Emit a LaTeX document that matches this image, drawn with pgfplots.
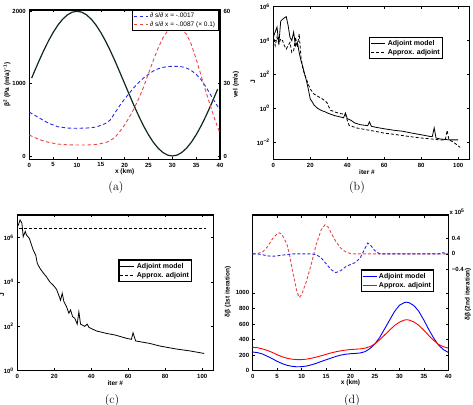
\documentclass[border=0pt]{standalone}
\usepackage{pgfplots}
\pgfplotsset{compat=1.18}
\usepackage{fontspec}
\newfontfamily\hv{Liberation Sans}
\definecolor{dkline}{RGB}{15,40,28}
\definecolor{dblue}{RGB}{40,40,225}
\definecolor{dred}{RGB}{235,70,70}
\pgfplotsset{
 base/.style={scale only axis, anchor=south west, tick align=inside,
   axis line style={line width=1.1pt},
   every tick/.style={black, line width=0.6pt},
   major tick length=2.5pt,
   /pgf/number format/assume math mode=true,
   /pgf/number format/set thousands separator={},
   ticklabel style={font=\fontsize{6}{7}\selectfont\hv\bfseries},
   label style={font=\fontsize{6.5}{7.5}\selectfont\hv\bfseries},
   legend style={font=\fontsize{7}{8}\selectfont\hv\bfseries, draw=black, line width=1.1pt, inner sep=1pt, outer sep=0pt, row sep=-1.5pt, cells={anchor=west}},
   legend image code/.code={\draw[##1, line width=0.9pt] (0pt,0pt) -- (14pt,0pt);},
 },
}
\begin{document}
\begin{tikzpicture}
\useasboundingbox (0,0) rectangle (473pt,404pt);
% ---------------- (a) ----------------
\begin{axis}[base, at={(29.3pt,244.7pt)}, width=190.7pt, height=149.3pt,
  xmin=0, xmax=40, ymin=-46, ymax=2018, xtick={0,5,...,40}, ytick={0,1000,2000},
  xlabel={x (km)}, ylabel={β\textsuperscript{2} (Pa (m/a)\textsuperscript{−1})},
  xlabel style={at={(axis description cs:0.5,-0.085)}, anchor=center},
  ylabel style={at={(axis description cs:-0.117,0.5)}, anchor=center}]
\addplot[dkline, line width=1.2pt] coordinates {
(0.5,1078)(1,1156)(2,1309)(3,1454)(4,1588)(5,1707)(6,1809)(7,1891)(8,1951)(9,1988)(10,2000)
(11,1988)(12,1951)(13,1891)(14,1809)(15,1707)(16,1588)(17,1454)(18,1309)(19,1156)(20,1000)
(21,844)(22,691)(23,546)(24,412)(25,293)(26,191)(27,109)(28,49)(29,12)(30,0)
(31,12)(32,49)(33,109)(34,191)(35,293)(36,412)(37,546)(38,691)(39,844)(39.5,922)};
\end{axis}
\begin{axis}[base, at={(29.3pt,244.7pt)}, width=190.7pt, height=149.3pt,
  xmin=0, xmax=40, axis x line=none, axis y line*=right, ymin=-1.35, ymax=60.55, ytick={0,30,60},
  ylabel={vel (m/a)},
  ylabel style={at={(axis description cs:1.084,0.5)}, anchor=center},
  legend style={at={(axis description cs:0.99,1)}, anchor=north east, font=\fontsize{6.5}{7.5}\selectfont\hv}]
\addplot[dblue, line width=0.9pt, dash pattern=on 3.5pt off 2.5pt] coordinates {
(0,18.2)(2,15.9)(4,13.65)(6,12.15)(8,11.6)(10,11.5)(12,11.6)(14,12.0)(16,13.5)(17,15.0)(18,18.0)
(19,21.0)(20,23.7)(21,26.1)(22,28.5)(23,30.6)(24,32.4)(25,33.9)(26,35.25)(27,36.15)(28,36.75)
(29,37.1)(30,37.2)(31,37.2)(32,37.0)(33,36.45)(34,35.4)(35,33.9)(36,31.8)(37,28.8)(38,25.5)(39,22.2)(40,19.0)};
\addlegendentry{∂ s/∂ x = -.0017}
\addplot[dred, line width=0.9pt, dash pattern=on 3.5pt off 2.5pt] coordinates {
(0,8.7)(2,6.9)(4,5.7)(6,4.95)(8,4.65)(10,4.56)(12,4.6)(14,4.8)(16,5.55)(17,6.45)(18,7.8)(19,10.2)
(20,12.9)(21,16.2)(22,19.8)(23,24.0)(24,28.8)(25,34.2)(26,39.6)(27,44.7)(28,48.9)(29,51.9)(30,53.25)
(31,53.4)(32,52.5)(33,50.4)(34,46.2)(35,40.2)(36,33.6)(37,27.0)(38,20.7)(39,14.7)(40,9.4)};
\addlegendentry{∂ s/∂ x = -.0087 (× 0.1)}
\end{axis}
% ---------------- (b) ----------------
\begin{axis}[base, at={(273.3pt,244.7pt)}, width=196pt, height=152.6pt,
  ymode=log, xmin=0, xmax=106, ymin=1e-3, ymax=1e6, xtick={0,20,...,100},
  ytick={1e-2,1,1e2,1e4,1e6}, yticklabels={10\textsuperscript{−2},10\textsuperscript{0},10\textsuperscript{2},10\textsuperscript{4},10\textsuperscript{6}},
  xlabel={iter \#}, ylabel={J},
  xlabel style={at={(axis description cs:0.478,-0.083)}, anchor=center},
  ylabel style={at={(axis description cs:-0.104,0.507)}, anchor=center},
  legend style={at={(axis description cs:0.493,0.801)}, anchor=north west}]
\addplot[black, line width=0.8pt] coordinates {
(0,1.6e4)(1,3.2e4)(2,6.3e4)(3,6.3e3)(4,1.4e5)(5,1.8e5)(6,2.2e5)(7,2.6e5)(8,7.9e4)(9,1.6e4)(10,1.0e4)
(11,3.2e4)(12,5.0e3)(13,7.9e3)(14,2.0e3)(15,630)(16,280)(17,100)(18,40)(19,12.6)(20,3.5)(21,2.5)
(22,1.6)(24,1.0)(26,0.76)(28,0.63)(30,0.5)(33,0.38)(36,0.32)(38,0.28)(39,0.54)(40,0.25)(42,0.2)
(44,0.14)(47,0.11)(50,0.1)(51,0.095)(52,0.16)(53,0.089)(55,0.079)(60,0.063)(65,0.052)(70,0.045)
(75,0.035)(80,0.028)(85,0.022)(86,0.022)(87,0.071)(88,0.018)(90,0.016)(95,0.014)(100,0.014)};
\addlegendentry{Adjoint model}
\addplot[black, line width=0.8pt, dash pattern=on 3pt off 2pt] coordinates {
(0,2.5e4)(1,5.0e3)(2,1.6e4)(3,6.3e3)(4,1.26e4)(5,1.0e4)(6,5.0e3)(7,3.2e3)(8,5.0e3)(9,7.9e3)(10,2.0e3)
(11,2.5e3)(12,1.6e4)(13,4.0e3)(14,2.5e4)(15,1.0e3)(16,200)(17,100)(18,50)(19,25)(20,14)(22,7.1)
(24,5.2)(26,4.0)(28,2.8)(29,2.2)(30,1.26)(31,0.79)(33,0.63)(36,0.5)(39,0.45)(40,0.2)(41,0.1)
(45,0.071)(50,0.056)(55,0.045)(60,0.035)(65,0.030)(70,0.025)(75,0.021)(80,0.018)(85,0.016)
(90,0.014)(93,0.014)(94,0.05)(95,0.014)(97,0.011)(100,0.0063)(101,0.005)};
\addlegendentry{Approx. adjoint}
\end{axis}
% ---------------- (c) ----------------
\begin{axis}[base, at={(17.3pt,33.3pt)}, width=196pt, height=155.7pt,
  ymode=log, xmin=0, xmax=106, ymin=1, ymax=1.05e7, xtick={0,20,...,100},
  ytick={1,1e2,1e4,1e6}, yticklabels={10\textsuperscript{0},10\textsuperscript{2},10\textsuperscript{4},10\textsuperscript{6}},
  xlabel={iter \#}, ylabel={J},
  xlabel style={at={(axis description cs:0.5,-0.079)}, anchor=center},
  ylabel style={at={(axis description cs:-0.078,0.49)}, anchor=center},
  legend style={at={(axis description cs:0.519,0.711)}, anchor=north west}]
\addplot[black, line width=0.8pt] coordinates {
(0.5,3.5e6)(1.5,6.3e6)(2.5,4.5e6)(3.2,1.1e6)(4.3,1.9e6)(5,1.3e6)(6.5,9.3e5)(7.7,4.7e5)(8.6,2.8e5)
(10,1.6e5)(10.8,6.9e4)(12.2,4.2e4)(14,2.6e4)(15.8,1.7e4)(17.6,1.0e4)(19.4,7.2e3)(21.2,4.7e3)
(22.7,2.2e3)(23.4,1.5e3)(24.3,3.1e3)(25.2,1.3e3)(26.6,780)(27.9,390)(28.8,550)(29.9,275)(31.1,230)
(32.4,126)(33.3,457)(34.2,126)(36.5,100)(37.8,126)(38.8,89)(42.8,62)(48.2,48)(52.7,41)(59,29)
(61.7,26)(62.6,51)(64,22)(71.6,17)(77,13)(86,9.5)(93,7.9)(101,6.0)};
\addlegendentry{Adjoint model}
\addplot[black, line width=0.8pt, dash pattern=on 3pt off 2pt] coordinates {(1,2.63e6)(102,2.63e6)};
\addlegendentry{Approx. adjoint}
\end{axis}
% ---------------- (d) ----------------
\begin{axis}[base, at={(252.7pt,33.3pt)}, width=195.6pt, height=155.7pt,
  xmin=0, xmax=40, ymin=0, ymax=2000, xtick={0,5,...,40}, ytick={0,200,...,1000},
  xlabel={x (km)}, ylabel={δβ (1st iteration)},
  xlabel style={at={(axis description cs:0.5,-0.079)}, anchor=center},
  ylabel style={at={(axis description cs:-0.126,0.505)}, anchor=center},
  legend style={at={(axis description cs:0.554,0.647)}, anchor=north west}]
\addplot[blue, line width=0.9pt] coordinates {
(0,240)(1,232)(2,215)(3,185)(4,155)(5,120)(6,92)(7,70)(8,57)(9,50)(10,52)(11,60)(12,75)(13,95)
(14,118)(15,140)(16,162)(17,183)(18,200)(19,212)(20,218)(21,222)(22,228)(23,245)(24,285)(25,345)
(26,430)(27,540)(28,650)(29,760)(30,840)(31,875)(31.5,880)(32,873)(33,835)(34,760)(35,650)(36,530)
(37,420)(38,330)(39,270)(40,235)};
\addlegendentry{Adjoint model}
\addplot[red, line width=0.9pt] coordinates {
(0,300)(1,295)(2,280)(3,260)(4,235)(5,205)(6,180)(7,160)(8,148)(9,143)(10,143)(11,148)(12,160)
(13,175)(14,192)(15,210)(16,228)(17,243)(18,255)(19,265)(20,272)(21,276)(22,280)(23,290)(24,310)
(25,345)(26,398)(27,460)(28,522)(29,580)(30,623)(31,650)(31.5,655)(32,650)(33,625)(34,582)(35,520)
(36,453)(37,390)(38,338)(39,308)(40,290)};
\addlegendentry{Approx. adjoint}
\end{axis}
\begin{axis}[base, at={(252.7pt,33.3pt)}, width=195.6pt, height=155.7pt,
  xmin=0, xmax=40, axis x line=none, axis y line*=right, ymin=-3, ymax=1,
  ytick={-0.4,0,0.4}, yticklabels={−0.4,0,0.4},
  ylabel={δβ (2nd iteration)},
  ylabel style={at={(axis description cs:1.10,0.49)}, anchor=center}]
\addplot[dred, line width=0.9pt, dash pattern=on 3pt off 2pt] coordinates {
(0,0)(1,0.01)(2,0.05)(3,0.18)(4,0.38)(5,0.52)(5.5,0.54)(6,0.5)(7,0.25)(7.5,0)(8,-0.35)(9,-0.95)
(9.5,-1.12)(10,-1.05)(11,-0.7)(12,-0.25)(12.5,0)(13,0.25)(14,0.62)(14.8,0.75)(15.5,0.68)(16,0.55)
(17,0.32)(18,0.15)(19,0.05)(20,0.01)(21,0)(40,0)};
\addplot[dblue, line width=0.9pt, dash pattern=on 3pt off 2pt] coordinates {
(0,0)(1,0)(2,-0.02)(3,-0.05)(4,-0.06)(5,-0.05)(6,-0.03)(7,-0.02)(8,0)(12,0)(13,-0.02)(14,-0.1)
(15,-0.25)(16,-0.4)(17,-0.48)(18,-0.43)(19,-0.33)(20,-0.27)(21,-0.22)(22,-0.1)(23,0.15)(23.5,0.28)
(24,0.24)(25,0.08)(26,0)(38,0)(38.5,0.02)(39,0.03)(39.5,0.01)(40,0)};
\end{axis}
\node[font=\fontsize{6}{7}\selectfont\hv\bfseries] at (457pt,192pt) {x 10\textsuperscript{5}};
% captions
\node[font=\fontsize{12}{14}\selectfont] at (116pt,216pt) {(a)};
\node[font=\fontsize{12}{14}\selectfont] at (357pt,216pt) {(b)};
\node[font=\fontsize{12}{14}\selectfont] at (112pt,3pt) {(c)};
\node[font=\fontsize{12}{14}\selectfont] at (352pt,3pt) {(d)};
\end{tikzpicture}
\end{document}
